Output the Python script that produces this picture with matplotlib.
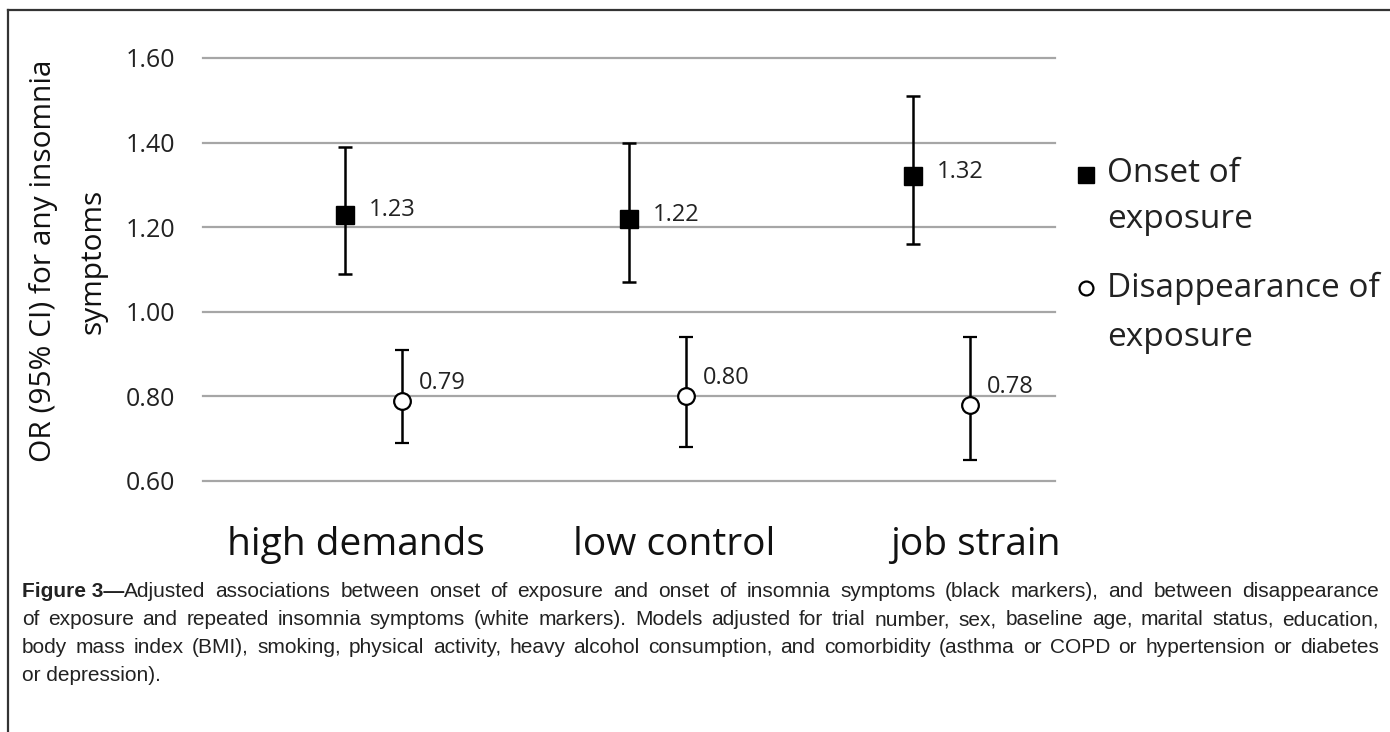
import matplotlib
matplotlib.use("Agg")
import matplotlib.pyplot as plt
from matplotlib.lines import Line2D

# ---- data ----
categories = ["high demands", "low control", "job strain"]
onset_or = [1.23, 1.22, 1.32]
onset_lo = [1.09, 1.07, 1.16]
onset_hi = [1.39, 1.40, 1.51]
disap_or = [0.79, 0.80, 0.78]
disap_lo = [0.69, 0.68, 0.65]
disap_hi = [0.91, 0.94, 0.94]
yticks = [0.60, 0.80, 1.00, 1.20, 1.40, 1.60]
legend_labels = [["Onset of", "exposure"], ["Disappearance of", "exposure"]]
ylabel_lines = ["OR (95% CI) for any insomnia", "symptoms"]
caption_bold = "Figure 3\u2014"
caption_lines = [
    "Adjusted associations between onset of exposure and onset of insomnia symptoms (black markers), and between disappearance",
    "of exposure and repeated insomnia symptoms (white markers). Models adjusted for trial number, sex, baseline age, marital status, education,",
    "body mass index (BMI), smoking, physical activity, heavy alcohol consumption, and comorbidity (asthma or COPD or hypertension or diabetes",
    "or depression).",
]

# ---- layout ----
W, H = 1390, 732
cat_pos = [1, 2, 3]
disap_shift = 0.2
label_pos = [1.04, 2.16, 3.22]

cap_font = ["Liberation Sans", "DejaVu Sans"]
chart_font = ["Open Sans", "DejaVu Sans"]

fig = plt.figure(figsize=(W / 100, H / 100), dpi=100)

ax_l, ax_r = 203, 1055
ax_t, ax_b = 58, 481
ax = fig.add_axes([ax_l / W, 1 - ax_b / H, (ax_r - ax_l) / W, (ax_b - ax_t) / H])
ax.set_xlim(0.5, 3.5)
ax.set_ylim(0.6, 1.6)
for s in ax.spines.values():
    s.set_visible(False)
for yv in yticks:
    ax.axhline(yv, color="#a6a6a6", lw=1.6, zorder=0, clip_on=False)
ax.set_yticks(yticks)
ax.set_yticklabels([f"{v:.2f}" for v in yticks], fontfamily=chart_font, fontsize=18, color="#222222")
ax.tick_params(axis="y", length=0, pad=20)
ax.set_xticks([])

x_on = [p for p in cat_pos]
x_di = [p + disap_shift for p in cat_pos]

ax.errorbar(x_on, onset_or,
            yerr=[[o - l for o, l in zip(onset_or, onset_lo)], [h - o for o, h in zip(onset_or, onset_hi)]],
            fmt="s", color="black", mfc="black", mec="black", ms=12.5, elinewidth=1.8,
            capsize=5.2, capthick=1.8, zorder=3, clip_on=False)
ax.errorbar(x_di, disap_or,
            yerr=[[o - l for o, l in zip(disap_or, disap_lo)], [h - o for o, h in zip(disap_or, disap_hi)]],
            fmt="o", color="black", mfc="white", mec="black", mew=1.6, ms=12, elinewidth=1.8,
            capsize=5.2, capthick=1.8, zorder=3, clip_on=False)

for x, v in zip(x_on, onset_or):
    ax.annotate(f"{v:.2f}", (x, v), xytext=(17, 3), textcoords="offset points",
                ha="left", va="center", fontfamily=chart_font, fontsize=17, color="#222222")
for x, v in zip(x_di, disap_or):
    ax.annotate(f"{v:.2f}", (x, v), xytext=(12, 13), textcoords="offset points",
                ha="left", va="center", fontfamily=chart_font, fontsize=17, color="#222222")

for x, c in zip(label_pos, categories):
    ax.text(x, -0.152, c, transform=ax.get_xaxis_transform(), ha="center", va="center",
            fontfamily=chart_font, fontsize=28, color="#111111")

# y label (two lines)
for xx, t in zip([44, 93], ylabel_lines):
    fig.text(xx / W, 1 - 261 / H, t, rotation=90, ha="center", va="center",
             fontfamily=chart_font, fontsize=21.5, color="#111111")

# legend (drawn manually to mimic Excel wrapped legend text)
leg_x_mark = 1086
leg_x_text = 1107
fig.add_artist(Line2D([leg_x_mark / W], [1 - 175 / H], ls="none", marker="s",
                      color="black", mfc="black", ms=11))
fig.add_artist(Line2D([leg_x_mark / W], [1 - 288 / H], ls="none", marker="o",
                      color="black", mfc="white", mew=1.6, ms=10))
for lines, ys in zip(legend_labels, [[173, 220], [288, 337]]):
    for t, yy in zip(lines, ys):
        fig.text(leg_x_text / W, 1 - yy / H, t, ha="left", va="center",
                 fontfamily=chart_font, fontsize=24, color="#222222")

# border
fig.add_artist(Line2D([8 / W, 8 / W], [0, 1 - 10 / H], color="#333333", lw=1.6))
fig.add_artist(Line2D([8 / W, 1.0], [1 - 10 / H, 1 - 10 / H], color="#333333", lw=1.6))

# caption (justified, baseline-aligned)
fig.canvas.draw()
renderer = fig.canvas.get_renderer()
cap_size = 15
cap_left, cap_right = 22, 1379
baseline_y = [597, 625, 653, 681]

def wtext(xpx, ypx, s, **kw):
    t = fig.text(xpx / W, 1 - ypx / H, s, ha="left", va="baseline",
                 fontfamily=cap_font, fontsize=cap_size, color="#222222", **kw)
    return t, t.get_window_extent(renderer).width

tb, bw = wtext(cap_left, baseline_y[0], caption_bold, fontweight="bold")

for i, (ln, yy) in enumerate(zip(caption_lines, baseline_y)):
    x0 = cap_left + (bw if i == 0 else 0)
    if i == len(caption_lines) - 1:
        wtext(x0, yy, ln)
        continue
    words = ln.split(" ")
    arts, widths = [], []
    for w_ in words:
        t, wdt = wtext(0, yy, w_)
        arts.append(t)
        widths.append(wdt)
    gap = (cap_right - x0 - sum(widths)) / (len(words) - 1)
    cx = x0
    for t, wdt in zip(arts, widths):
        t.set_x(cx / W)
        cx += wdt + gap

fig.savefig("out.png", dpi=100)
